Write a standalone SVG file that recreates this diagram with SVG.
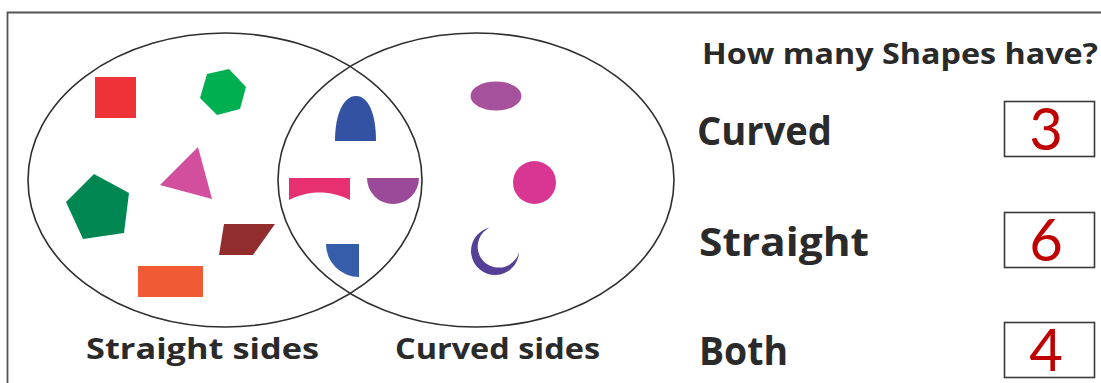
<svg xmlns="http://www.w3.org/2000/svg" width="1101" height="383" viewBox="0 0 1101 383">
<style>
.ring{fill:none;stroke:#2e2e2e;stroke-width:1.6}
.lbl{font-family:"Open Sans","DejaVu Sans",sans-serif;font-weight:700;fill:#2a2a2a}
.box{fill:#fff;stroke:#3a3a3a;stroke-width:1.6}
.num{font-family:"Lato","Liberation Sans",sans-serif;font-weight:400;fill:#c00000;font-size:58px;text-anchor:middle}
</style>
<rect width="1101" height="383" fill="#fff"/>
<path d="M7.5 383 V12.5 H1101" fill="none" stroke="#555" stroke-width="1.8"/>
<g id="set-straight">
<ellipse class="ring" cx="225" cy="180" rx="197" ry="147"/>
<text class="lbl" x="86" y="359" font-size="29" textLength="233" lengthAdjust="spacingAndGlyphs">Straight sides</text>
</g>
<g id="set-curved">
<ellipse class="ring" cx="476" cy="180" rx="198" ry="147"/>
<text class="lbl" x="395" y="359" font-size="29" textLength="205" lengthAdjust="spacingAndGlyphs">Curved sides</text>
</g>
<g id="shapes-straight">
<rect x="95" y="77" width="41" height="41" fill="#ee3338"/>
<polygon points="207,74 229,69 246,87 240,109 217,115 200,98" fill="#00b050"/>
<polygon points="198,147 212,199 160,185" fill="#d24f9e"/>
<polygon points="94,174 129,193 124,233 83,239 66,202" fill="#008752"/>
<polygon points="224,224 275,224 253,255 219,255" fill="#922d2e"/>
<rect x="138" y="266" width="65" height="31" fill="#f05b35"/>
</g>
<g id="shapes-both">
<path d="M335 141 C335 115 343 96 356 96 C369 96 376 115 376 141 Z" fill="#3452a3"/>
<path d="M289 178 H350 V200 C331 190 308 190 289 200 Z" fill="#e6306f"/>
<path d="M367 178 H419 A26 26 0 0 1 367 178 Z" fill="#9b4a99"/>
<path d="M359 244 V277 A33 33 0 0 1 326 244 Z" fill="#355daa"/>
</g>
<g id="shapes-curved">
<ellipse cx="496" cy="96" rx="25.5" ry="14.5" fill="#a5519b"/>
<circle cx="534.5" cy="182.5" r="21.5" fill="#d93694"/>
<path d="M490 227.5 A24 24 0 1 0 519 252 A21 21 0 1 1 490 227.5 Z" fill="#563f97"/>
</g>
<g id="question">
<text class="lbl" x="702" y="64" font-size="29" textLength="396" lengthAdjust="spacingAndGlyphs">How many Shapes have?</text>
</g>
<g id="row-curved">
<text class="lbl" x="697" y="145" font-size="40" textLength="135" lengthAdjust="spacingAndGlyphs">Curved</text>
<rect class="box" x="1004.5" y="101.5" width="90" height="55"/>
<text class="num" x="1046" y="150">3</text>
</g>
<g id="row-straight">
<text class="lbl" x="699" y="256" font-size="40" textLength="170" lengthAdjust="spacingAndGlyphs">Straight</text>
<rect class="box" x="1004.5" y="212.5" width="90" height="55"/>
<text class="num" x="1046" y="261">6</text>
</g>
<g id="row-both">
<text class="lbl" x="699" y="365" font-size="40" textLength="89" lengthAdjust="spacingAndGlyphs">Both</text>
<rect class="box" x="1004.5" y="322.5" width="90" height="55"/>
<text class="num" x="1046" y="371">4</text>
</g>
<g id="connectors"></g>
</svg>
